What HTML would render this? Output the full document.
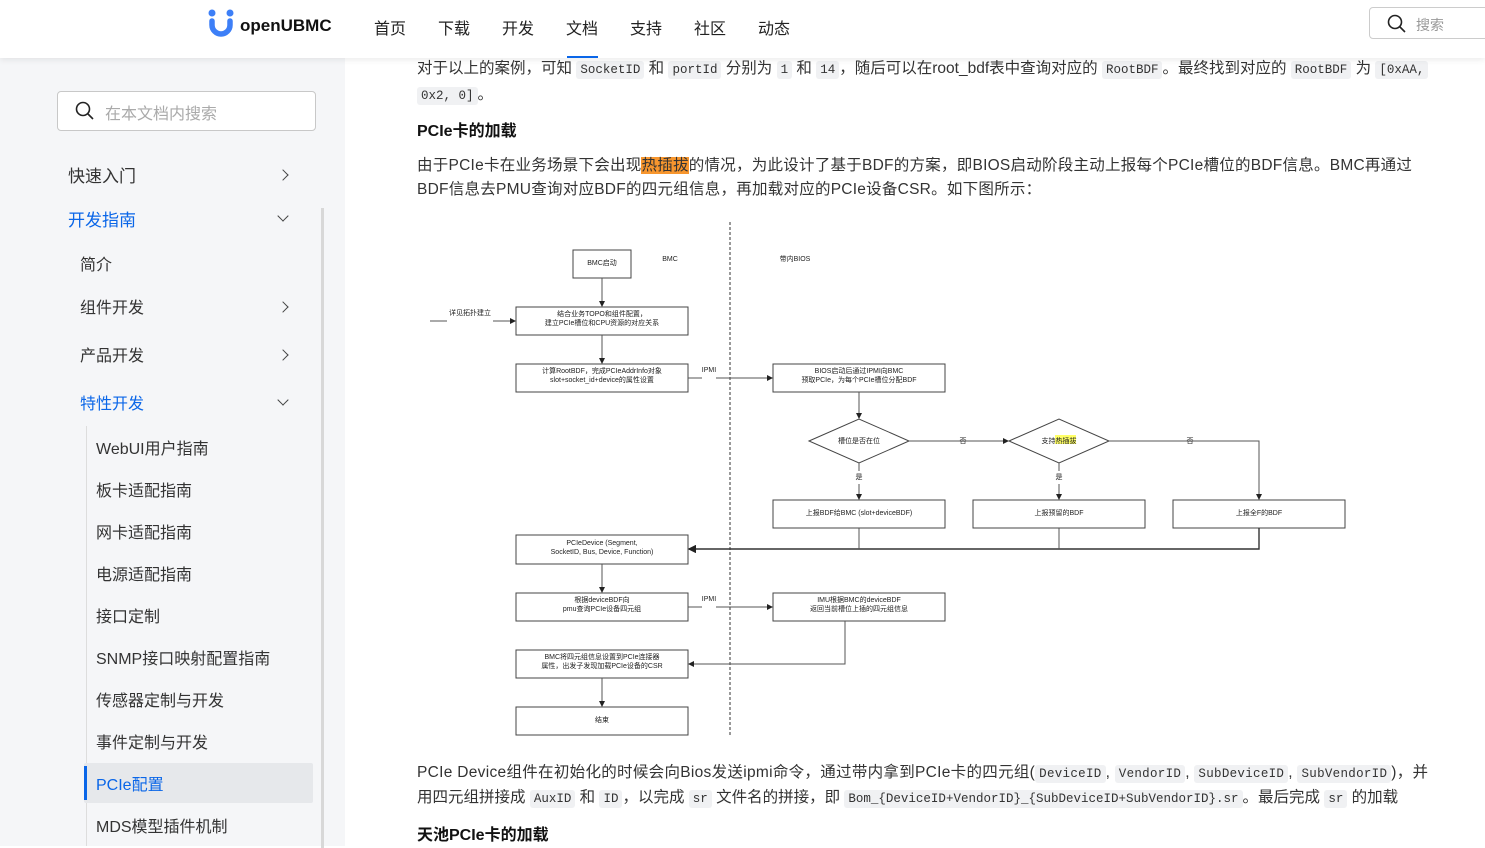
<!DOCTYPE html>
<html><head><meta charset="utf-8"><style>
*{margin:0;padding:0;box-sizing:border-box}
body{width:1485px;height:846px;overflow:hidden;background:#fff;font-family:"Liberation Sans","Noto Sans CJK SC",sans-serif;color:#222;position:relative}
.a{position:absolute;white-space:nowrap}
#hdr{position:absolute;left:0;top:0;width:1485px;height:58px;background:#fff;box-shadow:0 2px 6px rgba(0,0,0,.08);z-index:5}
#side{position:absolute;left:0;top:58px;width:345px;height:788px;background:#f5f6f8}
.nav{font-size:16px;color:#222}
.si{font-size:16px;color:#333}
code{font-family:"Liberation Mono",monospace;font-size:12.5px;background:#f0f1f3;padding:2px 4px;border-radius:3px;color:#333}
.p{font-size:15.5px;color:#333}
.h{font-size:16px;font-weight:bold;color:#111}
.chev{position:absolute;width:8px;height:8px;border-right:1.6px solid #444;border-bottom:1.6px solid #444}
</style></head><body>
<div id="hdr">
 <svg class="a" style="left:207px;top:8px" width="28" height="30"><circle cx="5" cy="5" r="3.5" fill="#3d7ff7"/><circle cx="23" cy="5" r="3.5" fill="#3d7ff7"/><path d="M5 13 v4 a9 9 0 0 0 18 0 v-4" stroke="#3d7ff7" stroke-width="5.5" fill="none" stroke-linecap="round"/></svg>
 <div class="a" style="left:240px;top:16px;font-size:17px;font-weight:bold;color:#111">openUBMC</div>
 <div class="a nav" style="left:374px;top:15px">首页</div>
 <div class="a nav" style="left:438px;top:15px">下载</div>
 <div class="a nav" style="left:502px;top:15px">开发</div>
 <div class="a nav" style="left:566px;top:15px">文档</div>
 <div class="a" style="left:567px;top:56px;width:31px;height:2px;background:#0a66e8"></div>
 <div class="a nav" style="left:630px;top:15px">支持</div>
 <div class="a nav" style="left:694px;top:15px">社区</div>
 <div class="a nav" style="left:758px;top:15px">动态</div>
 <div class="a" style="left:1369px;top:7px;width:130px;height:32px;border:1px solid #ccc;border-radius:4px"></div>
 <svg class="a" style="left:1387px;top:14px" width="20" height="20"><circle cx="8" cy="8" r="6.5" stroke="#222" stroke-width="1.6" fill="none"/><line x1="13" y1="13" x2="18" y2="18" stroke="#222" stroke-width="1.6"/></svg>
 <div class="a" style="left:1416px;top:15px;font-size:14px;color:#999">搜索</div>
</div>
<div id="side">
 <div class="a" style="left:57px;top:33px;width:259px;height:40px;border:1px solid #c8c8c8;border-radius:4px;background:#fff"></div>
 <svg class="a" style="left:75px;top:43px" width="20" height="20"><circle cx="8" cy="8" r="6.5" stroke="#222" stroke-width="1.6" fill="none"/><line x1="13" y1="13" x2="18" y2="18" stroke="#222" stroke-width="1.6"/></svg>
 <div class="a" style="left:105px;top:42px;font-size:16px;color:#aaa">在本文档内搜索</div>
 <div class="a" style="left:321px;top:150px;width:3px;height:640px;background:#d8d8d8"></div>
 <div class="a si" style="left:68px;top:104px;font-size:17px">快速入门</div><div class="chev" style="left:279px;top:113px;transform:rotate(-45deg)"></div>
 <div class="a si" style="left:68px;top:148px;font-size:17px;color:#0a66e8">开发指南</div><div class="chev" style="left:279px;top:154px;transform:rotate(45deg)"></div>
 <div class="a si" style="left:80px;top:193px">简介</div>
 <div class="a si" style="left:80px;top:236px">组件开发</div><div class="chev" style="left:279px;top:245px;transform:rotate(-45deg)"></div>
 <div class="a si" style="left:80px;top:284px">产品开发</div><div class="chev" style="left:279px;top:293px;transform:rotate(-45deg)"></div>
 <div class="a si" style="left:80px;top:332px;color:#0a66e8">特性开发</div><div class="chev" style="left:279px;top:338px;transform:rotate(45deg)"></div>
 <div class="a" style="left:86px;top:368px;width:1px;height:420px;background:#ddd"></div>
 <div class="a si" style="left:96px;top:377px">WebUI用户指南</div>
 <div class="a si" style="left:96px;top:419px">板卡适配指南</div>
 <div class="a si" style="left:96px;top:461px">网卡适配指南</div>
 <div class="a si" style="left:96px;top:503px">电源适配指南</div>
 <div class="a si" style="left:96px;top:545px">接口定制</div>
 <div class="a si" style="left:96px;top:587px">SNMP接口映射配置指南</div>
 <div class="a si" style="left:96px;top:629px">传感器定制与开发</div>
 <div class="a si" style="left:96px;top:671px">事件定制与开发</div>
 <div class="a" style="left:84px;top:705px;width:229px;height:40px;background:#e6e8eb;border-radius:2px"></div>
 <div class="a" style="left:84px;top:708px;width:3px;height:34px;background:#0a66e8"></div>
 <div class="a si" style="left:96px;top:713px;color:#0a66e8">PCIe配置</div>
 <div class="a si" style="left:96px;top:755px">MDS模型插件机制</div>
</div>
<div class="a p" style="left:417px;top:56px">对于以上的案例，可知 <code>SocketID</code> 和 <code>portId</code> 分别为 <code>1</code> 和 <code>14</code>，随后可以在root_bdf表中查询对应的 <code>RootBDF</code>。最终找到对应的 <code>RootBDF</code> 为 <code>[0xAA,</code></div>
<div class="a p" style="left:417px;top:82px"><code>0x2, 0]</code>。</div>
<div class="a h" style="left:417px;top:117px">PCIe卡的加载</div>
<div class="a p" style="left:417px;top:153px;letter-spacing:0.25px">由于PCIe卡在业务场景下会出现<span style="background:#f7962e">热插拔</span>的情况，为此设计了基于BDF的方案，即BIOS启动阶段主动上报每个PCIe槽位的BDF信息。BMC再通过</div>
<div class="a p" style="left:417px;top:177px;letter-spacing:0.25px">BDF信息去PMU查询对应BDF的四元组信息，再加载对应的PCIe设备CSR。如下图所示：</div>
<svg class="a" style="left:0;top:0" width="1485" height="846" font-family="Liberation Sans,Noto Sans CJK SC,sans-serif" font-size="7" text-anchor="middle">
<defs><marker id="m" markerWidth="6" markerHeight="6" refX="5" refY="3" orient="auto"><path d="M0,0 L6,3 L0,6 z" fill="#222"/></marker></defs>
<g stroke="#444" fill="#fff" stroke-width="1">
<rect x="573" y="250" width="58" height="28"/>
<rect x="516" y="307" width="172" height="28"/>
<rect x="516" y="364" width="172" height="28"/>
<rect x="773" y="364" width="172" height="28"/>
<path d="M809 441 L859 419 L909 441 L859 463 z"/>
<path d="M1009 441 L1059 419 L1109 441 L1059 463 z"/>
<rect x="773" y="500" width="172" height="28"/>
<rect x="973" y="500" width="172" height="28"/>
<rect x="1173" y="500" width="172" height="28"/>
<rect x="516" y="535" width="172" height="29"/>
<rect x="516" y="593" width="172" height="28"/>
<rect x="773" y="593" width="172" height="28"/>
<rect x="516" y="650" width="172" height="28"/>
<rect x="516" y="707" width="172" height="28"/>
</g>
<line x1="730" y1="222" x2="730" y2="736" stroke="#333" stroke-dasharray="3,2"/>
<g stroke="#555" fill="none" marker-end="url(#m)">
<line x1="602" y1="278" x2="602" y2="306"/>
<line x1="602" y1="335" x2="602" y2="363"/>
<line x1="493" y1="321" x2="515" y2="321"/>
<line x1="716" y1="378" x2="772" y2="378"/>
<line x1="859" y1="392" x2="859" y2="418"/>
<line x1="909" y1="441" x2="1008" y2="441"/>
<path d="M1109 441 H1259 V499"/>
<line x1="859" y1="484" x2="859" y2="499"/>
<line x1="1059" y1="484" x2="1059" y2="499"/>
<path d="M1259 528 V549 H689" stroke="#333" stroke-width="1.4"/>
<line x1="602" y1="564" x2="602" y2="592"/>
<line x1="716" y1="607" x2="772" y2="607"/>
<path d="M845 621 V664 H689"/>
<line x1="602" y1="678" x2="602" y2="706"/>
</g>
<g stroke="#555"><line x1="430" y1="321" x2="447" y2="321"/><line x1="688" y1="378" x2="702" y2="378"/><line x1="688" y1="607" x2="702" y2="607"/><line x1="859" y1="463" x2="859" y2="471"/><line x1="1059" y1="463" x2="1059" y2="471"/><line x1="859" y1="528" x2="859" y2="549"/><line x1="1059" y1="528" x2="1059" y2="549"/></g>
<rect x="1040" y="435" width="38" height="9" fill="#fff"/>
<rect x="1055" y="435" width="21" height="9" fill="#ffff00" opacity=".6"/>
<g fill="#222">
<text x="602" y="265">BMC启动</text>
<text x="670" y="261">BMC</text><text x="795" y="261">带内BIOS</text>
<text x="470" y="315">详见拓扑建立</text>
<text x="602" y="316">结合业务TOPO和组件配置，</text><text x="602" y="325">建立PCIe槽位和CPU资源的对应关系</text>
<text x="602" y="373">计算RootBDF，完成PCIeAddrInfo对象</text><text x="602" y="382">slot+socket_id+device的属性设置</text>
<text x="709" y="372">IPMI</text>
<text x="859" y="373">BIOS启动后通过IPMI向BMC</text><text x="859" y="382">预取PCIe，为每个PCIe槽位分配BDF</text>
<text x="859" y="443">槽位是否在位</text>
<text x="1059" y="443">支持热插拔</text>
<text x="963" y="443">否</text><text x="1190" y="443">否</text>
<text x="859" y="479">是</text><text x="1059" y="479">是</text>
<text x="859" y="515">上报BDF给BMC (slot+deviceBDF)</text>
<text x="1059" y="515">上报预留的BDF</text>
<text x="1259" y="515">上报全F的BDF</text>
<text x="602" y="545">PCIeDevice (Segment,</text><text x="602" y="554">SocketID, Bus, Device, Function)</text>
<text x="602" y="602">根据deviceBDF向</text><text x="602" y="611">pmu查询PCIe设备四元组</text>
<text x="709" y="601">IPMI</text>
<text x="859" y="602">IMU根据BMC的deviceBDF</text><text x="859" y="611">返回当前槽位上插的四元组信息</text>
<text x="602" y="659">BMC将四元组信息设置到PCIe连接器</text><text x="602" y="668">属性，出发子发现加载PCIe设备的CSR</text>
<text x="602" y="722">结束</text>
</g>
</svg>
<div class="a p" style="left:417px;top:760px;letter-spacing:0.3px">PCIe Device组件在初始化的时候会向Bios发送ipmi命令，通过带内拿到PCIe卡的四元组(<code>DeviceID</code>, <code>VendorID</code>, <code>SubDeviceID</code>, <code>SubVendorID</code>)，并</div>
<div class="a p" style="left:417px;top:785px">用四元组拼接成 <code>AuxID</code> 和 <code>ID</code>，以完成 <code>sr</code> 文件名的拼接，即 <code>Bom_{DeviceID+VendorID}_{SubDeviceID+SubVendorID}.sr</code>。最后完成 <code>sr</code> 的加载</div>
<div class="a h" style="left:417px;top:821px">天池PCIe卡的加载</div>
</body></html>
